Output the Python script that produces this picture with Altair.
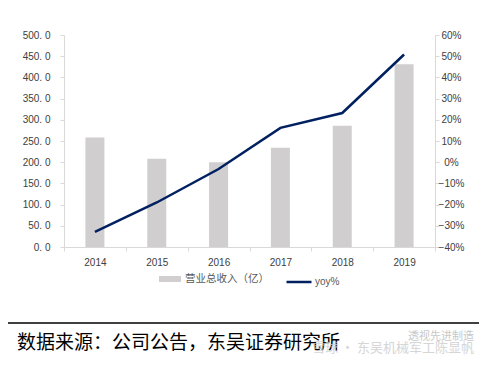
import altair as alt
import pandas as pd

years = ["2014", "2015", "2016", "2017", "2018", "2019"]
revenue = [258, 208, 200, 234, 286, 431]
yoy = [-0.329, -0.190, -0.032, 0.162, 0.232, 0.508]
left_ticks = [0, 50, 100, 150, 200, 250, 300, 350, 400, 450, 500]
right_ticks = [-0.4, -0.3, -0.2, -0.1, 0.0, 0.1, 0.2, 0.3, 0.4, 0.5, 0.6]
series_bar = "营业总收入（亿）"
series_line = "yoy%"
source_text = "数据来源：公司公告，东吴证券研究所"
watermark_top = "透视先进制造"
watermark_bottom = "雪球 · 东吴机械军工陈显帆"

df = pd.DataFrame({"year": years, "revenue": revenue, "yoy": yoy,
                   "s1": series_bar, "s2": series_line})

LAT = "Liberation Sans"
CJK = "Noto Sans CJK SC"
AX = "#d9d9d9"
LBL = "#404040"

x_enc = alt.X("year:O", scale=alt.Scale(paddingInner=0, paddingOuter=0),
              axis=alt.Axis(title=None, labelAngle=0, tickBand="extent",
                            domainColor=AX, tickColor=AX, tickSize=4,
                            labelFont=LAT, labelFontSize=10, labelColor=LBL,
                            labelPadding=6))

bars = alt.Chart(df).mark_bar(size=19).encode(
    x=x_enc,
    y=alt.Y("revenue:Q", scale=alt.Scale(domain=[0, 500], nice=False),
            axis=alt.Axis(title=None, values=left_ticks, grid=False,
                          labelExpr="replace(format(datum.value, '.1f'), '.', '. ')",
                          domainColor=AX, tickColor=AX, tickSize=4,
                          labelFont=LAT, labelFontSize=10, labelColor=LBL,
                          labelPadding=10)),
    color=alt.Color("s1:N", scale=alt.Scale(range=["#d0cece"]),
                    legend=alt.Legend(title=None, orient="none", legendX=95, legendY=233,
                                      symbolType="M-1,-0.27H1V0.27H-1Z", symbolSize=484,
                                      symbolStrokeWidth=0, labelOffset=4,
                                      labelFont=CJK, labelFontSize=10.5, labelColor="#595959",
                                      padding=0)),
)

line = alt.Chart(df).mark_line(strokeWidth=2.5).encode(
    x=x_enc,
    y=alt.Y("yoy:Q", scale=alt.Scale(domain=[-0.4, 0.6], nice=False),
            axis=alt.Axis(title=None, orient="right", values=right_ticks, grid=False,
                          format=".0%", labelAlign="center",
                          domainColor=AX, tickColor=AX, tickSize=4,
                          labelFont=LAT, labelFontSize=10, labelColor=LBL,
                          labelPadding=12)),
    stroke=alt.Stroke("s2:N", scale=alt.Scale(range=["#002060"]),
                      legend=alt.Legend(title=None, orient="none", legendX=221, legendY=233,
                                        symbolType="stroke", symbolSize=625,
                                        symbolStrokeWidth=2.5, labelOffset=2,
                                        labelFont=LAT, labelFontSize=10, labelColor="#595959",
                                        padding=0)),
)

ann = pd.DataFrame({"t": [source_text]})
source = alt.Chart(ann).mark_text(font=CJK, fontSize=19, color="black",
                                  align="left", baseline="alphabetic").encode(
    text="t:N", x=alt.value(-47), y=alt.value(314))

rule = alt.Chart(ann).mark_rule(color="black", strokeWidth=1.5).encode(
    x=alt.value(-56), x2=alt.value(420), y=alt.value(288))

wm = pd.DataFrame({"t": [watermark_top]})
wm1 = alt.Chart(wm).mark_text(font=CJK, fontSize=11, color="#bbbbbb", opacity=0.8,
                              align="right", baseline="alphabetic").encode(
    text="t:N", x=alt.value(410), y=alt.value(305))
wm2d = pd.DataFrame({"t": [watermark_bottom]})
wm2 = alt.Chart(wm2d).mark_text(font=CJK, fontSize=13, color="#cccccc", opacity=0.8,
                                align="right", baseline="alphabetic").encode(
    text="t:N", x=alt.value(410), y=alt.value(317))

chart = alt.layer(bars, line, rule, source, wm1, wm2).resolve_scale(
    y="independent", color="independent", stroke="independent"
).properties(
    width=371, height=212, autosize="none",
    padding={"left": 56, "top": 27, "right": 44, "bottom": 110},
).configure_view(stroke=None)

chart.save("out.html", embed_options={"renderer": "svg", "actions": False})
